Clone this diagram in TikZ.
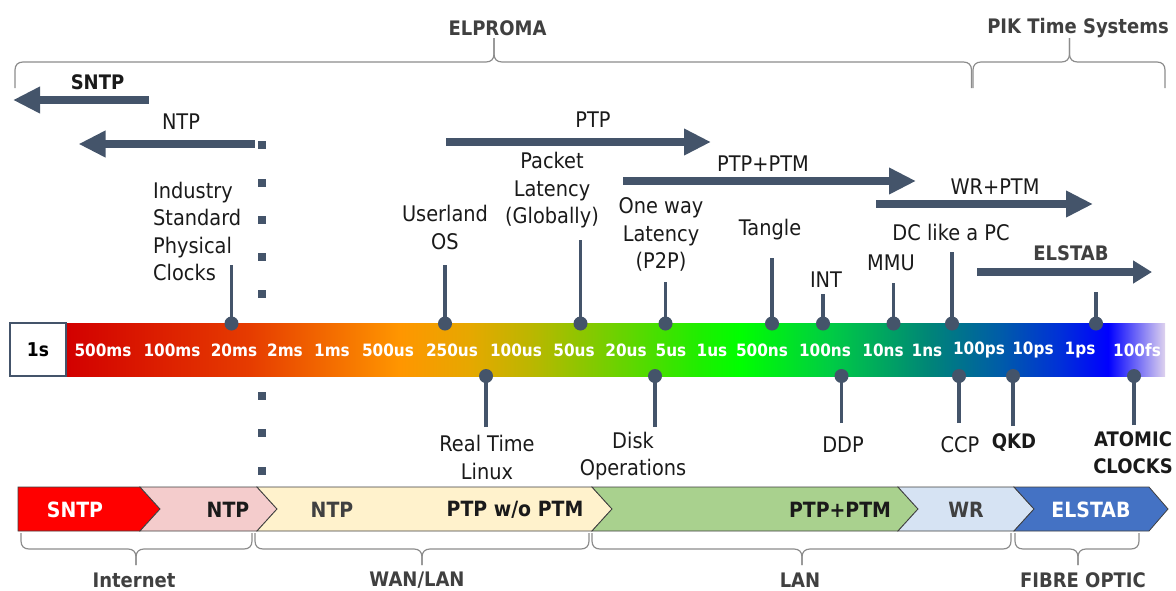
\documentclass[tikz,border=0pt]{standalone}
\usepackage{fontspec}
\setmainfont{DejaVu Sans}[FakeStretch=0.9]
\usetikzlibrary{arrows.meta}

\definecolor{slate}{HTML}{44546A}
\definecolor{bracegray}{HTML}{8C8C8C}
\definecolor{labgray}{HTML}{404040}
\definecolor{ink}{HTML}{1A1A1A}
\definecolor{chevline}{HTML}{3F3F3F}
\definecolor{cSNTP}{HTML}{FF0000}
\definecolor{cNTP}{HTML}{F4CCCC}
\definecolor{cPTP}{HTML}{FFF2CC}
\definecolor{cPTM}{HTML}{A9D18E}
\definecolor{cWR}{HTML}{D6E3F3}
\definecolor{cELS}{HTML}{4472C4}

% colour stops of the time-scale bar
\definecolor{s0}{HTML}{D20000}
\definecolor{s1}{HTML}{E63C00}
\definecolor{s2}{HTML}{FF9600}
\definecolor{s3}{HTML}{E6A800}
\definecolor{s4}{HTML}{BCB600}
\definecolor{s5}{HTML}{7CCC00}
\definecolor{s6}{HTML}{1EEE00}
\definecolor{s7}{HTML}{00FF00}
\definecolor{s8}{HTML}{00CC44}
\definecolor{s9}{HTML}{008478}
\definecolor{s10}{HTML}{005CA8}
\definecolor{s11}{HTML}{0030D8}
\definecolor{s12}{HTML}{0000FF}
\definecolor{s13}{HTML}{DED2EE}

\pgfdeclarehorizontalshading{spectrum}{100bp}{%
  color(0bp)=(s0); color(25bp)=(s0); color(33.37bp)=(s1); color(40.20bp)=(s2);
  color(43.38bp)=(s3); color(46.11bp)=(s4); color(49.30bp)=(s5); color(53.84bp)=(s6);
  color(55.66bp)=(s7); color(59.76bp)=(s8); color(64.31bp)=(s9); color(67.49bp)=(s10);
  color(70.22bp)=(s11); color(72.41bp)=(s12); color(75bp)=(s13); color(100bp)=(s13)}

% a curly brace: x-left, x-tip, x-right, y of ends, y of line, y of tip, side (+1 ends below / -1 ends above)
\newcommand\curlybrace[7]{%
  \draw[brc] ({#1},{#4}) -- ({#1},{#5+(#7)*8}) .. controls ({#1},{#5+(#7)*3}) and ({#1+3},{#5}) .. ({#1+8},{#5})
    -- ({#2-8},{#5}) .. controls ({#2-3},{#5}) and ({#2},{#5-(#7)*3}) .. ({#2},{#5-(#7)*8}) -- ({#2},{#6});
  \draw[brc] ({#3},{#4}) -- ({#3},{#5+(#7)*8}) .. controls ({#3},{#5+(#7)*3}) and ({#3-3},{#5}) .. ({#3-8},{#5})
    -- ({#2+8},{#5}) .. controls ({#2+3},{#5}) and ({#2},{#5-(#7)*3}) .. ({#2},{#5-(#7)*8}) -- ({#2},{#6});
}

% pins standing on the bar (above) and hanging below it
\newcommand\pinup[3]{%
  \coordinate (#1t) at (#2,#3);
  \node[pindot] (#1d) at (#2,323.5) {};
  \draw[pinline] (#1t) -- (#1d.center);}
\newcommand\pindown[3]{%
  \coordinate (#1t) at (#2,#3);
  \node[pindot] (#1d) at (#2,376) {};
  \draw[pinline] (#1t) -- (#1d.center);}

\tikzset{
  brc/.style={bracegray, line width=1.2},
  lab/.style={text=ink, font=\fontsize{21.5}{27.5}\selectfont, align=center, inner sep=0},
  blab/.style={text=labgray, font=\bfseries\fontsize{20}{27.5}\selectfont, align=center, inner sep=0},
  tick/.style={text=white, font=\bfseries\fontsize{17}{20}\selectfont, inner sep=0},
  chevtext/.style={font=\bfseries\fontsize{21}{24}\selectfont, inner sep=0},
  chev/.style={draw=chevline, line width=0.8},
  blockarrow/.style={slate, line width=8.5, -{Triangle[length=27pt, width=25pt]}},
  smallarrow/.style={slate, line width=7.7, -{Triangle[length=19pt, width=22pt]}},
  pinline/.style={slate, line width=3.5},
  pindot/.style={circle, fill=slate, minimum size=14, inner sep=0},
  sqdot/.style={rectangle, fill=slate, minimum size=8, inner sep=0},
}

\begin{document}
\begin{tikzpicture}[x=1pt, y=-1pt]
\useasboundingbox (0,0) rectangle (1176,590);

% ---- vendor braces on top
\curlybrace{15}{494}{971.5}{88}{62}{38}{1}
\curlybrace{973}{1069.5}{1165}{88}{62}{38}{1}
\node[blab] (elproma) at (497.5,28) {ELPROMA};
\node[blab] (pik) at (1078,28) {PIK Time Systems};

% ---- protocol arrows
\coordinate (sntpA) at (148.5,100); \coordinate (sntpB) at (13,100);
\draw[blockarrow] (sntpA) -- (sntpB);
\node[blab, text=ink] (sntpL) at (97.5,82) {SNTP};

\coordinate (ntpA) at (254.5,144); \coordinate (ntpB) at (78.5,144);
\draw[blockarrow] (ntpA) -- (ntpB);
\node[lab] (ntpL) at (181,122) {NTP};

\coordinate (ptpA) at (446,142); \coordinate (ptpB) at (711,142);
\draw[blockarrow] (ptpA) -- (ptpB);
\node[lab] (ptpL) at (593,120) {PTP};

\coordinate (ptmA) at (623,181); \coordinate (ptmB) at (916,181);
\draw[blockarrow] (ptmA) -- (ptmB);
\node[lab] (ptmL) at (763,164) {PTP+PTM};

\coordinate (wrA) at (876,204); \coordinate (wrB) at (1093,204);
\draw[blockarrow] (wrA) -- (wrB);
\node[lab] (wrL) at (995,187) {WR+PTM};

\coordinate (elsA) at (977,272); \coordinate (elsB) at (1152,272);
\draw[smallarrow] (elsA) -- (elsB);
\node[blab] (elsL) at (1071,253) {ELSTAB};

% ---- dotted boundary
\foreach \yy in {145,183,220,257,294,396,433,471}
  \node[sqdot] (sq\yy) at (262,\yy) {};

% ---- time-scale bar
\shade[shading=spectrum] (66,323) rectangle (1165,376);
\node[draw=slate, line width=1.5, fill=white, minimum width=56, minimum height=53, inner sep=0,
      font=\bfseries\fontsize{19}{22}\selectfont] (onesec) at (38,349.5) {1s};

\foreach \xx/\tt [count=\i] in {103/500ms, 172/100ms, 234/20ms, 285/2ms, 332/1ms, 388/500us,
    452/250us, 516/100us, 574/50us, 626/20us, 671/5us, 712/1us, 762/500ns, 825/100ns,
    883/10ns, 927/1ns, 979/100ps, 1033/10ps, 1080/1ps, 1137/100fs}
  \node[tick] (tk\i) at (\xx,350) {\tt};

% ---- pins above the bar
\pinup{ind}{231.5}{265}
\pinup{usr}{445}{265}
\pinup{pkt}{580.5}{240}
\pinup{owl}{665.5}{282}
\pinup{tng}{772}{258}
\pinup{int}{823}{294}
\pinup{mmu}{893.5}{283}
\pinup{dcp}{952}{252}
\pinup{elp}{1096}{292}

\node[lab, align=left, anchor=west] (indL) at (153,231.5) {Industry\\Standard\\Physical\\Clocks};
\node[lab] (usrL) at (445,227.5) {Userland\\OS};
\node[lab] (pktL) at (552,190.5) {Packet\\Latency\\(Globally)};
\node[lab] (owlL) at (661,234.5) {One way\\Latency\\(P2P)};
\node[lab] (tngL) at (770,230) {Tangle};
\node[lab] (intL) at (826,280) {INT};
\node[lab] (mmuL) at (891,263) {MMU};
\node[lab] (dcpL) at (951,232) {DC like a PC};

% ---- pins below the bar
\pindown{rtl}{486}{427}
\pindown{dsk}{655}{427}
\pindown{ddp}{841.5}{423}
\pindown{ccp}{959}{423}
\pindown{qkd}{1013}{426}
\pindown{atm}{1134}{425}

\node[lab] (rtlL) at (487,457.5) {Real Time\\Linux};
\node[lab] (dskL) at (633,456) {Disk\\Operations};
\node[lab] (ddpL) at (843,445) {DDP};
\node[lab] (ccpL) at (960,445) {CCP};
\node[blab, text=ink] (qkdL) at (1014,443) {QKD};
\node[blab, text=ink] (atmL) at (1133,452.5) {ATOMIC\\CLOCKS};

% ---- protocol chevrons
\filldraw[chev, fill=cSNTP] (18,487) -- (140,487) -- (160,509) -- (140,531) -- (18,531) -- cycle;
\filldraw[chev, fill=cNTP] (140,487) -- (257,487) -- (277,509) -- (257,531) -- (140,531) -- (160,509) -- cycle;
\filldraw[chev, fill=cPTP] (257,487) -- (592,487) -- (612,509) -- (592,531) -- (257,531) -- (277,509) -- cycle;
\filldraw[chev, fill=cPTM] (592,487) -- (898,487) -- (918,509) -- (898,531) -- (592,531) -- (612,509) -- cycle;
\filldraw[chev, fill=cWR] (898,487) -- (1014,487) -- (1034,509) -- (1014,531) -- (898,531) -- (918,509) -- cycle;
\filldraw[chev, fill=cELS] (1014,487) -- (1149,487) -- (1168,509) -- (1149,531) -- (1014,531) -- (1034,509) -- cycle;

\node[chevtext, text=white] (cvSNTP) at (75,510) {SNTP};
\node[chevtext, text=ink] (cvNTP) at (228,510) {NTP};
\node[chevtext, text=labgray] (cvNTP2) at (332,510) {NTP};
\node[chevtext, text=ink] (cvPTP) at (515,510) {PTP w/o PTM};
\node[chevtext, text=ink] (cvPTM) at (840,510) {PTP+PTM};
\node[chevtext, text=labgray] (cvWR) at (966,510) {WR};
\node[chevtext, text=white] (cvELS) at (1091,510) {ELSTAB};

% ---- network braces below
\curlybrace{21}{136}{252}{533}{549}{565}{-1}
\curlybrace{255}{422}{589}{533}{549}{565}{-1}
\curlybrace{592}{802}{1011}{533}{549}{565}{-1}
\curlybrace{1015}{1078}{1139}{533}{549}{565}{-1}

\node[blab] (netL) at (134,580) {Internet};
\node[blab] (wanL) at (417,580) {WAN/LAN};
\node[blab] (lanL) at (800,580) {LAN};
\node[blab] (fibL) at (1083,580) {FIBRE OPTIC};
\end{tikzpicture}
\end{document}
